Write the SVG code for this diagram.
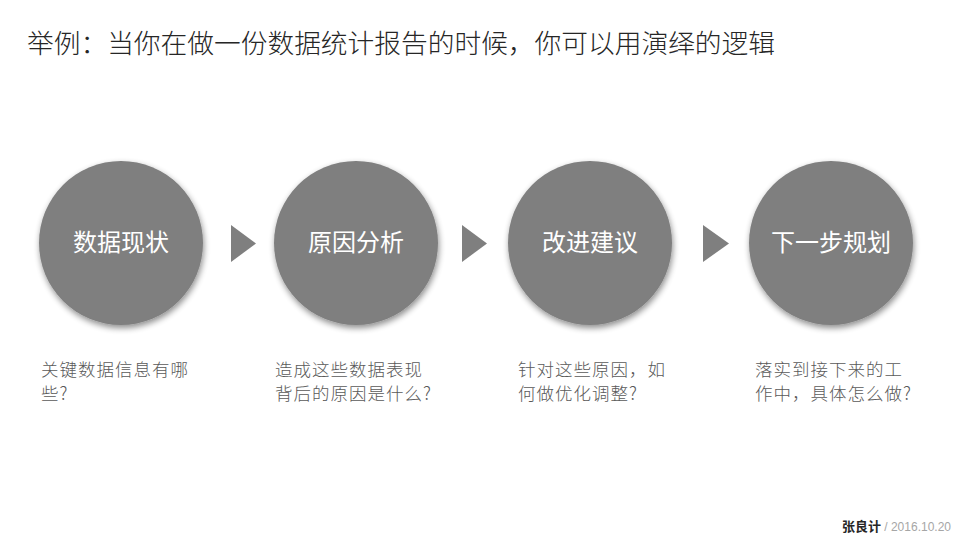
<svg xmlns="http://www.w3.org/2000/svg" width="960" height="540" viewBox="0 0 960 540">
<defs>
<filter id="sh" x="-20%" y="-20%" width="150%" height="150%">
<feGaussianBlur in="SourceAlpha" stdDeviation="3"/>
<feOffset dx="1" dy="3" result="b"/>
<feComponentTransfer><feFuncA type="linear" slope="0.45"/></feComponentTransfer>
<feMerge><feMergeNode/><feMergeNode in="SourceGraphic"/></feMerge>
</filter>
<style>
text{font-family:"Microsoft YaHei","Noto Sans CJK SC","Noto Sans",sans-serif}
.title{font-size:26px;fill:#262626;font-weight:300}
.c{fill:#7f7f7f;filter:url(#sh)}
.cl{font-size:24px;fill:#ffffff;text-anchor:middle}
.d{font-size:17.5px;fill:#595959;font-weight:300;letter-spacing:1px}
.arr{fill:#7f7f7f}
</style>
</defs>
<rect width="960" height="540" fill="#ffffff"/>
<text class="title" x="27" y="53" textLength="748" lengthAdjust="spacingAndGlyphs">举例：当你在做一份数据统计报告的时候，你可以用演绎的逻辑</text>
<g id="connectors">
<polygon class="arr" points="231,225 256,243.5 231,262"/>
<polygon class="arr" points="462,225 487,243.5 462,262"/>
<polygon class="arr" points="703,225 729,243.5 703,262"/>
</g>
<g id="node1">
<circle class="c" cx="121" cy="243" r="82"/>
<text class="cl" x="121" y="251">数据现状</text>
<text class="d" x="41" y="376">关键数据信息有哪</text>
<text class="d" x="41" y="400">些?</text>
</g>
<g id="node2">
<circle class="c" cx="356" cy="243" r="82"/>
<text class="cl" x="356" y="251">原因分析</text>
<text class="d" x="275" y="376">造成这些数据表现</text>
<text class="d" x="275" y="400">背后的原因是什么?</text>
</g>
<g id="node3">
<circle class="c" cx="590" cy="243" r="82"/>
<text class="cl" x="590" y="251">改进建议</text>
<text class="d" x="518" y="376">针对这些原因，如</text>
<text class="d" x="518" y="400">何做优化调整?</text>
</g>
<g id="node4">
<circle class="c" cx="831" cy="243" r="82"/>
<text class="cl" x="831" y="251">下一步规划</text>
<text class="d" x="755" y="376">落实到接下来的工</text>
<text class="d" x="755" y="400">作中，具体怎么做?</text>
</g>
<g id="footer">
<text x="951" y="531" text-anchor="end" style="font-size:12px"><tspan style="font-weight:bold;fill:#262626;font-size:13px">张良计</tspan><tspan fill="#a6a6a6" font-family="'Liberation Sans',Arial,sans-serif"> / 2016.10.20</tspan></text>
</g>
</svg>
